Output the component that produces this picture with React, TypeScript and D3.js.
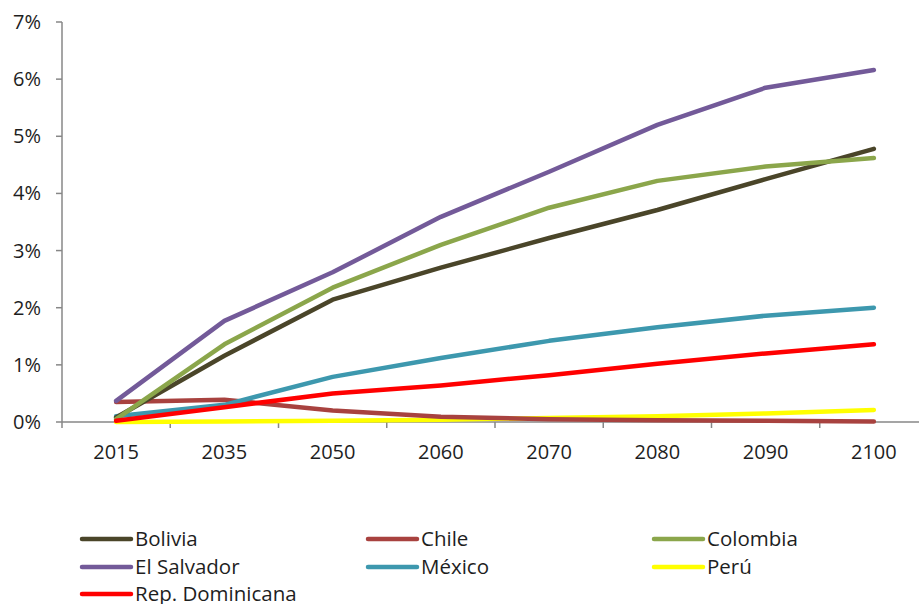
import React from "react";
import * as d3 from "d3";

const years = ["2015", "2035", "2050", "2060", "2070", "2080", "2090", "2100"];
const yTicks = [0, 1, 2, 3, 4, 5, 6, 7];

const bolivia = [0.08, 1.16, 2.14, 2.7, 3.22, 3.71, 4.25, 4.78];
const chile = [0.35, 0.39, 0.2, 0.09, 0.05, 0.03, 0.02, 0.01];
const colombia = [0.05, 1.36, 2.35, 3.1, 3.75, 4.22, 4.47, 4.62];
const elSalvador = [0.37, 1.77, 2.62, 3.59, 4.38, 5.2, 5.85, 6.16];
const mexico = [0.1, 0.3, 0.79, 1.12, 1.42, 1.66, 1.86, 2.0];
const peru = [0.0, 0.01, 0.02, 0.04, 0.07, 0.1, 0.15, 0.21];
const repDominicana = [0.02, 0.26, 0.5, 0.64, 0.82, 1.02, 1.2, 1.36];

const series = [
  { name: "Bolivia", values: bolivia, color: "#4a4529" },
  { name: "Chile", values: chile, color: "#a8423f" },
  { name: "Colombia", values: colombia, color: "#8ba64b" },
  { name: "El Salvador", values: elSalvador, color: "#735a99" },
  { name: "México", values: mexico, color: "#3d98ae" },
  { name: "Perú", values: peru, color: "#ffff00" },
  { name: "Rep. Dominicana", values: repDominicana, color: "#ff0000" },
];

// draw order: back to front
const drawOrder = ["Perú", "Chile", "México", "Bolivia", "Colombia", "El Salvador", "Rep. Dominicana"];

const W = 919;
const H = 604;
const left = 62;
const right = 928;
const top = 22;
const bottom = 422;
const axisColor = "#878787";
const textColor = "#1e1e1e";
const font = "'Open Sans', 'Noto Sans', sans-serif";

export default function App() {
  const x = d3.scaleBand<string>().domain(years).range([left, right]).padding(0);
  const y = d3.scaleLinear().domain([0, 7]).range([bottom, top]);
  const cx = (yr: string) => (x(yr) as number) + x.bandwidth() / 2;

  const line = d3
    .line<number>()
    .x((_, i) => cx(years[i]))
    .y((v) => y(v))
    .curve(d3.curveLinear);

  const ordered = drawOrder.map((n) => series.find((s) => s.name === n)!);

  const legendCols = [82, 368, 654];
  const legendRows = [539, 567, 594];

  return (
    <svg
      width={W}
      height={H}
      style={{ position: "absolute", left: 0, top: 0, background: "#fff" }}
      fontFamily={font}
    >
      <rect x={0} y={0} width={W} height={H} fill="#fff" />
      {/* y axis */}
      <line x1={left} x2={left} y1={top} y2={bottom} stroke={axisColor} strokeWidth={1.5} />
      {yTicks.map((t) => (
        <g key={t}>
          <line x1={left - 6} x2={left} y1={y(t)} y2={y(t)} stroke={axisColor} strokeWidth={1.5} />
          <text x={41} y={y(t)} dy="0.35em" textAnchor="end" fontSize={20} fill={textColor}>
            {t}%
          </text>
        </g>
      ))}
      {/* x axis */}
      <line x1={left} x2={right} y1={bottom} y2={bottom} stroke={axisColor} strokeWidth={1.5} />
      {years.map((yr) => (
        <g key={yr}>
          <line
            x1={x(yr) as number}
            x2={x(yr) as number}
            y1={bottom}
            y2={bottom + 6}
            stroke={axisColor}
            strokeWidth={1.5}
          />
          <text x={cx(yr)} y={459} textAnchor="middle" fontSize={20} fill={textColor}>
            {yr}
          </text>
        </g>
      ))}
      {/* series */}
      {ordered.map((s) => (
        <path
          key={s.name}
          d={line(s.values) || ""}
          fill="none"
          stroke={s.color}
          strokeWidth={4.5}
          strokeLinejoin="round"
          strokeLinecap="round"
        />
      ))}
      {/* legend */}
      {series.map((s, i) => {
        const lx = legendCols[i % 3];
        const ly = legendRows[Math.floor(i / 3)];
        return (
          <g key={s.name}>
            <line x1={lx} x2={lx + 49} y1={ly} y2={ly} stroke={s.color} strokeWidth={4.5} strokeLinecap="round" />
            <text x={lx + 53} y={ly} dy="0.35em" fontSize={20.5} fill={textColor}>
              {s.name}
            </text>
          </g>
        );
      })}
    </svg>
  );
}
